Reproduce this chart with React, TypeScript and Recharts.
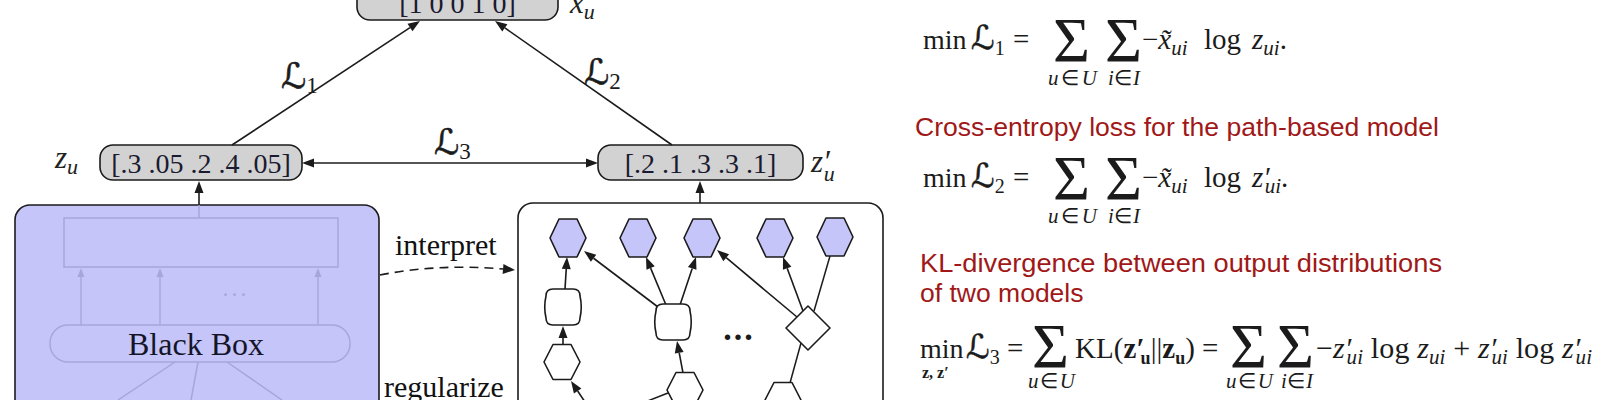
import React from 'react';
import { ScatterChart, Scatter, XAxis, YAxis, ReferenceArea, ReferenceLine } from 'recharts';

// ---- data, in picture units (1600 x 400, y grows downward) ----
const SHEET_W = 1600;
const SHEET_H = 400;

const vectorLabels = ['[1 0 0 1 0]', '[.3 .05 .2 .4 .05]', '[.2 .1 .3 .3 .1]'];

const areas = [
  { id: 'blackbox', x1: 15, x2: 379, y1: 205, y2: 440, kind: 'panelFilled', label: '' },
  { id: 'paths', x1: 518, x2: 883, y1: 203, y2: 440, kind: 'panelWhite', label: '' },
  { id: 'hidden', x1: 64, x2: 338, y1: 218, y2: 267, kind: 'fadedRect', label: '' },
  { id: 'core', x1: 50, x2: 350, y1: 325, y2: 362, kind: 'fadedPill', label: 'Black Box' },
  { id: 'xu', x1: 357, x2: 558, y1: -18, y2: 20, kind: 'vector', label: vectorLabels[0] },
  { id: 'zu', x1: 100, x2: 302, y1: 145, y2: 180, kind: 'vector', label: vectorLabels[1] },
  { id: 'zpu', x1: 598, x2: 803, y1: 145, y2: 180, kind: 'vector', label: vectorLabels[2] },
];

const edges = [
  { x1: 232, y1: 145, x2: 420, y2: 21, kind: 'arrow' },
  { x1: 672, y1: 145, x2: 495, y2: 21, kind: 'arrow' },
  { x1: 302, y1: 163, x2: 598, y2: 163, kind: 'double' },
  { x1: 199, y1: 205, x2: 199, y2: 181, kind: 'arrow' },
  { x1: 700, y1: 203, x2: 700, y2: 181, kind: 'arrow' },
  { x1: 199, y1: 218, x2: 199, y2: 205, kind: 'fadedLine' },
  { x1: 81, y1: 325, x2: 81, y2: 268, kind: 'fadedArrow' },
  { x1: 160, y1: 325, x2: 160, y2: 268, kind: 'fadedArrow' },
  { x1: 318, y1: 325, x2: 318, y2: 268, kind: 'fadedArrow' },
  { x1: 175, y1: 362, x2: 118, y2: 400, kind: 'fadedLine' },
  { x1: 198, y1: 362, x2: 191, y2: 400, kind: 'fadedLine' },
  { x1: 227, y1: 362, x2: 282, y2: 400, kind: 'fadedLine' },
  { x1: 380, y1: 275, x2: 515, y2: 270, kind: 'dashedCurve' },
  { x1: 565, y1: 289, x2: 567, y2: 257, kind: 'arrow' },
  { x1: 563, y1: 345, x2: 563, y2: 326, kind: 'arrow' },
  { x1: 585, y1: 402, x2: 571, y2: 381, kind: 'arrow' },
  { x1: 658, y1: 307, x2: 584, y2: 251, kind: 'arrow' },
  { x1: 666, y1: 305, x2: 646, y2: 257, kind: 'arrow' },
  { x1: 680, y1: 305, x2: 696, y2: 257, kind: 'arrow' },
  { x1: 683, y1: 373, x2: 677, y2: 341, kind: 'arrow' },
  { x1: 640, y1: 404, x2: 668, y2: 393, kind: 'line' },
  { x1: 797, y1: 317, x2: 717, y2: 250, kind: 'arrow' },
  { x1: 803, y1: 311, x2: 783, y2: 257, kind: 'arrow' },
  { x1: 830, y1: 256, x2: 814, y2: 311, kind: 'line' },
  { x1: 801, y1: 343, x2: 790, y2: 383, kind: 'line' },
];

const treeNodes = [
  { kind: 'output', x: 568, y: 238 },
  { kind: 'output', x: 638, y: 238 },
  { kind: 'output', x: 702, y: 238 },
  { kind: 'output', x: 775, y: 238 },
  { kind: 'output', x: 835, y: 237 },
  { kind: 'relation', x: 563, y: 307 },
  { kind: 'relation', x: 673, y: 322 },
  { kind: 'entity', x: 562, y: 362 },
  { kind: 'entity', x: 685, y: 390 },
  { kind: 'entity', x: 783, y: 400 },
  { kind: 'attr', x: 808, y: 328 },
];

const mathLabels = [
  { x: 570, y: 13, main: 'x', sub: 'u', kind: 'var' },
  { x: 55, y: 168, main: 'z', sub: 'u', kind: 'var' },
  { x: 811, y: 172, main: 'z′', sub: 'u', kind: 'var' },
  { x: 281, y: 88, main: 'ℒ', sub: '1', kind: 'loss' },
  { x: 584, y: 84, main: 'ℒ', sub: '2', kind: 'loss' },
  { x: 434, y: 154, main: 'ℒ', sub: '3', kind: 'loss' },
];

const wordLabels = [
  { x: 395, y: 255, text: 'interpret', kind: 'word' },
  { x: 384, y: 397, text: 'regularize', kind: 'word' },
  { x: 236, y: 296, text: '...', kind: 'fadedDots' },
  { x: 739, y: 340, text: '...', kind: 'dots' },
];

const captions = [
  'Cross-entropy loss for the path-based model',
  'KL-divergence between output distributions',
  'of two models',
];
const captionAnchors = [
  { x: 915, y: 136, text: captions[0], width: 524 },
  { x: 920, y: 272, text: captions[1], width: 522 },
  { x: 920, y: 302, text: captions[2], width: 0 },
];

const formulaAnchors = [
  { x: 923, y: 49, id: 'L1' },
  { x: 923, y: 187, id: 'L2' },
  { x: 920, y: 358, id: 'L3' },
];

// ---- styling ----
const INK = '#1b1b1b';
const FADE = '#a6a6dc';
const LAVENDER = '#c5c5f9';
const GREY = '#d2d2d2';
const RED = '#a01818';
const SERIF = '"Liberation Serif", "Times New Roman", serif';
const SANS = '"Liberation Sans", Arial, sans-serif';
const CAL = '"DejaVu Sans", "Liberation Serif", serif';

function head(x1: number, y1: number, x2: number, y2: number, len: number, half: number, fill: string) {
  const a = Math.atan2(y2 - y1, x2 - x1);
  const bx = x2 - len * Math.cos(a);
  const by = y2 - len * Math.sin(a);
  const nx = -Math.sin(a) * half;
  const ny = Math.cos(a) * half;
  return {
    poly: <polygon points={`${x2},${y2} ${bx + nx},${by + ny} ${bx - nx},${by - ny}`} fill={fill} />,
    bx,
    by,
  };
}

function EdgeShape(props: any) {
  const { x1, y1, x2, y2, kind } = props;
  const sw = 1.6;
  if (kind === 'line' || kind === 'fadedLine') {
    return <line x1={x1} y1={y1} x2={x2} y2={y2} stroke={kind === 'line' ? INK : FADE} strokeWidth={1.5} />;
  }
  if (kind === 'dashedCurve') {
    const cx = (x1 + x2) / 2 - 10;
    const cy = (y1 + y2) / 2 - 9;
    const h = head(cx, cy, x2, y2, 12, 5, INK);
    return (
      <g>
        <path d={`M${x1},${y1} Q${cx},${cy} ${h.bx},${h.by}`} fill="none" stroke={INK} strokeWidth={sw} strokeDasharray="9 6" />
        {h.poly}
      </g>
    );
  }
  const faded = kind === 'fadedArrow';
  const color = faded ? FADE : INK;
  const len = faded ? 9 : 12;
  const half = faded ? 3.5 : 4.5;
  const end = head(x1, y1, x2, y2, len, half, color);
  if (kind === 'double') {
    const start = head(x2, y2, x1, y1, len, half, color);
    return (
      <g>
        <line x1={start.bx} y1={start.by} x2={end.bx} y2={end.by} stroke={color} strokeWidth={sw} />
        {start.poly}
        {end.poly}
      </g>
    );
  }
  return (
    <g>
      <line x1={x1} y1={y1} x2={end.bx} y2={end.by} stroke={color} strokeWidth={faded ? 1.4 : sw} />
      {end.poly}
    </g>
  );
}

// draws its children around the scaled point (cx, cy)
const At = ({ cx, cy, children }: { cx: number; cy: number; children: React.ReactNode }) => (
  <g transform={`translate(${cx},${cy})`}>{children}</g>
);

function AreaShape(props: any) {
  const { x, y, width, height, kind, label } = props;
  if (kind === 'panelFilled' || kind === 'panelWhite') {
    return (
      <rect x={x} y={y} width={width} height={height} rx={15}
        fill={kind === 'panelFilled' ? LAVENDER : '#ffffff'} stroke={INK} strokeWidth={1.6} />
    );
  }
  if (kind === 'fadedRect') {
    return <rect x={x} y={y} width={width} height={height} fill="none" stroke={FADE} strokeWidth={1.5} />;
  }
  if (kind === 'fadedPill') {
    return (
      <g>
        <rect x={x} y={y} width={width} height={height} rx={18} fill="none" stroke={FADE} strokeWidth={1.5} />
        <text x={x + width / 2 - 4} y={y + height / 2 + 11} textAnchor="middle" fontFamily={SERIF} fontSize={32} fill="#15152a">
          {label}
        </text>
      </g>
    );
  }
  return (
    <g>
      <rect x={x} y={y} width={width} height={height} rx={13} fill={GREY} stroke={INK} strokeWidth={1.6} />
      <text x={x + width / 2} y={y + height - 7} textAnchor="middle" fontFamily={SERIF} fontSize={28} fill="#1a1a30">
        {label}
      </text>
    </g>
  );
}

function hexPoints(w: number, h: number) {
  return [
    [-w / 2, 0], [-w / 4, -h / 2], [w / 4, -h / 2],
    [w / 2, 0], [w / 4, h / 2], [-w / 4, h / 2],
  ].map((p) => p.join(',')).join(' ');
}

function TreeNode(props: any) {
  const { cx, cy, payload } = props;
  const common = { stroke: INK, strokeWidth: 1.6, strokeLinejoin: 'round' as const };
  let body;
  if (payload.kind === 'output') {
    body = <polygon points={hexPoints(36, 38)} fill={LAVENDER} {...common} />;
  } else if (payload.kind === 'entity') {
    body = <polygon points={hexPoints(36, 35)} fill="#ffffff" {...common} />;
  } else if (payload.kind === 'relation') {
    const x0 = -17, x1 = 17, y0 = -18, y1 = 18, r = 7, b = 2.5;
    const d = `M${x0 + r},${y0} H${x1 - r} Q${x1},${y0} ${x1},${y0 + r} Q${x1 + b},0 ${x1},${y1 - r} Q${x1},${y1} ${x1 - r},${y1} H${x0 + r} Q${x0},${y1} ${x0},${y1 - r} Q${x0 - b},0 ${x0},${y0 + r} Q${x0},${y0} ${x0 + r},${y0} Z`;
    body = <path d={d} fill="#ffffff" {...common} />;
  } else {
    body = <polygon points="0,-22 22,0 0,22 -22,0" fill="#ffffff" {...common} />;
  }
  return <At cx={cx} cy={cy}>{body}</At>;
}

function MathLabel(props: any) {
  const { cx, cy, payload } = props;
  if (payload.kind === 'loss') {
    return (
      <At cx={cx} cy={cy}>
        <text fill={INK} fontFamily={CAL} fontSize={35} stroke={INK} strokeWidth={0.6}>
          {payload.main}
          <tspan fontFamily={SERIF} fontSize={23} strokeWidth={0} dy={5}>{payload.sub}</tspan>
        </text>
      </At>
    );
  }
  const primed = payload.main.length > 1;
  return (
    <At cx={cx} cy={cy}>
      <text fill="#222" fontFamily={SERIF} fontStyle="italic" fontSize={31}>
        {payload.main}
        <tspan fontSize={22} dx={primed ? -6 : 0} dy={primed ? 9 : 6}>{payload.sub}</tspan>
      </text>
    </At>
  );
}

function WordLabel(props: any) {
  const { cx, cy, payload } = props;
  if (payload.kind === 'word') {
    return <At cx={cx} cy={cy}><text fontFamily={SERIF} fontSize={30} fill="#111">{payload.text}</text></At>;
  }
  const faded = payload.kind === 'fadedDots';
  return (
    <At cx={cx} cy={cy}>
      <text textAnchor="middle" fontFamily={SERIF} fontSize={faded ? 24 : 34}
        fontWeight={faded ? 'normal' : 'bold'} letterSpacing={faded ? 3 : 2} fill={faded ? FADE : INK}>
        {payload.text}
      </text>
    </At>
  );
}

function Caption(props: any) {
  const { cx, cy, payload } = props;
  return (
    <At cx={cx} cy={cy}>
      <text fontFamily={SANS} fontSize={26.5} fill={RED}
        textLength={payload.width || undefined} lengthAdjust={payload.width ? 'spacingAndGlyphs' : undefined}>
        {payload.text}
      </text>
    </At>
  );
}

const Sigma = ({ x, bottom }: { x: number; bottom: number }) => (
  <text x={x} y={bottom} fontSize={64} textLength={37} lengthAdjust="spacingAndGlyphs">Σ</text>
);
const Sub = ({ children, dx = 0 }: { children: React.ReactNode; dx?: number }) => (
  <tspan fontStyle="italic" fontSize={21} dx={dx} dy={6}>{children}</tspan>
);
const Up = ({ children }: { children: React.ReactNode }) => <tspan dy={-6}>{children}</tspan>;
const It = ({ children }: { children: React.ReactNode }) => <tspan fontStyle="italic">{children}</tspan>;
const Cal = ({ x, n }: { x: number; n: string }) => (
  <text x={x} y={0} fontSize={33} fontFamily={CAL} stroke={INK} strokeWidth={0.5}>
    ℒ<tspan fontFamily={SERIF} fontSize={20} strokeWidth={0} dy={6}>{n}</tspan>
  </text>
);
const Below = ({ x, y, w, a, b }: { x: number; y: number; w: number; a: string; b: string }) => (
  <text x={x} y={y} fontSize={21} textLength={w} style={{ whiteSpace: 'pre' }}><It>{a}</It>∈<It>{b}</It></text>
);

function Formula(props: any) {
  const { cx, cy, payload } = props;
  const pre = { whiteSpace: 'pre' as const };
  if (payload.id !== 'L3') {
    const two = payload.id === 'L2';
    return (
      <At cx={cx} cy={cy}>
        <g fontFamily={SERIF} fill={INK} fontSize={29}>
          <text x={0} y={0} fontSize={28}>min</text>
          <Cal x={48} n={two ? '2' : '1'} />
          <text x={90} y={0}>=</text>
          <Sigma x={130} bottom={13} />
          <Sigma x={182} bottom={13} />
          <Below x={125} y={36} w={49} a="u" b="U" />
          <Below x={185} y={36} w={32} a="i" b="I" />
          <text x={219} y={0} style={pre}>−<It>x̃</It><Sub>ui</Sub></text>
          <text x={281} y={0}>log</text>
          {two ? (
            <text x={329} y={0} style={pre}><It>z′</It><Sub dx={-5}>ui</Sub><Up>.</Up></text>
          ) : (
            <text x={329} y={0} style={pre}><It>z</It><Sub>ui</Sub><Up>.</Up></text>
          )}
        </g>
      </At>
    );
  }
  return (
    <At cx={cx} cy={cy}>
      <g fontFamily={SERIF} fill={INK} fontSize={29}>
        <text x={0} y={0} fontSize={28}>min</text>
        <text x={2} y={20} fontSize={16} fontWeight="bold" style={pre}>z, z′</text>
        <Cal x={46} n="3" />
        <text x={87} y={0}>=</text>
        <Sigma x={112} bottom={10} />
        <Below x={108} y={30} w={47} a="u" b="U" />
        <text x={155} y={0} textLength={120} lengthAdjust="spacing" style={pre}>
          KL(<tspan fontWeight="bold">z′</tspan><tspan fontWeight="bold" fontSize={18} dx={-4} dy={6}>u</tspan><Up>||</Up><tspan fontWeight="bold">z</tspan><tspan fontWeight="bold" fontSize={18} dy={6}>u</tspan><Up>)</Up>
        </text>
        <text x={282} y={0}>=</text>
        <Sigma x={310} bottom={10} />
        <Sigma x={357} bottom={10} />
        <Below x={306} y={30} w={47} a="u" b="U" />
        <Below x={361} y={30} w={32} a="i" b="I" />
        <text x={396} y={0} fontSize={30} textLength={276} lengthAdjust="spacing" style={pre}>
          −<It>z′</It><Sub dx={-5}>ui</Sub><Up> log </Up><It>z</It><Sub>ui</Sub><Up> + </Up><It>z′</It><Sub dx={-5}>ui</Sub><Up> log </Up><It>z′</It><Sub dx={-5}>ui</Sub>
        </text>
      </g>
    </At>
  );
}

export default function App() {
  return (
    <div style={{ position: 'absolute', left: 0, top: 0, width: 1600, height: 400, background: '#ffffff' }}>
      <ScatterChart width={1600} height={400} margin={{ top: 0, right: 0, bottom: 0, left: 0 }}>
        <XAxis type="number" dataKey="x" domain={[0, SHEET_W]} allowDataOverflow hide />
        <YAxis type="number" dataKey="y" domain={[0, SHEET_H]} allowDataOverflow reversed hide />
        {areas.map((a) => (
          <ReferenceArea key={a.id} x1={a.x1} x2={a.x2} y1={a.y1} y2={a.y2} ifOverflow="visible"
            shape={(p: any) => <AreaShape {...p} kind={a.kind} label={a.label} />} />
        ))}
        {edges.map((e, i) => (
          <ReferenceLine key={`e${i}`} segment={[{ x: e.x1, y: e.y1 }, { x: e.x2, y: e.y2 }]} ifOverflow="visible"
            shape={(p: any) => <EdgeShape {...p} kind={e.kind} />} />
        ))}
        <Scatter data={treeNodes} shape={TreeNode} isAnimationActive={false} />
        <Scatter data={mathLabels} shape={MathLabel} isAnimationActive={false} />
        <Scatter data={wordLabels} shape={WordLabel} isAnimationActive={false} />
        <Scatter data={captionAnchors} shape={Caption} isAnimationActive={false} />
        <Scatter data={formulaAnchors} shape={Formula} isAnimationActive={false} />
      </ScatterChart>
    </div>
  );
}
